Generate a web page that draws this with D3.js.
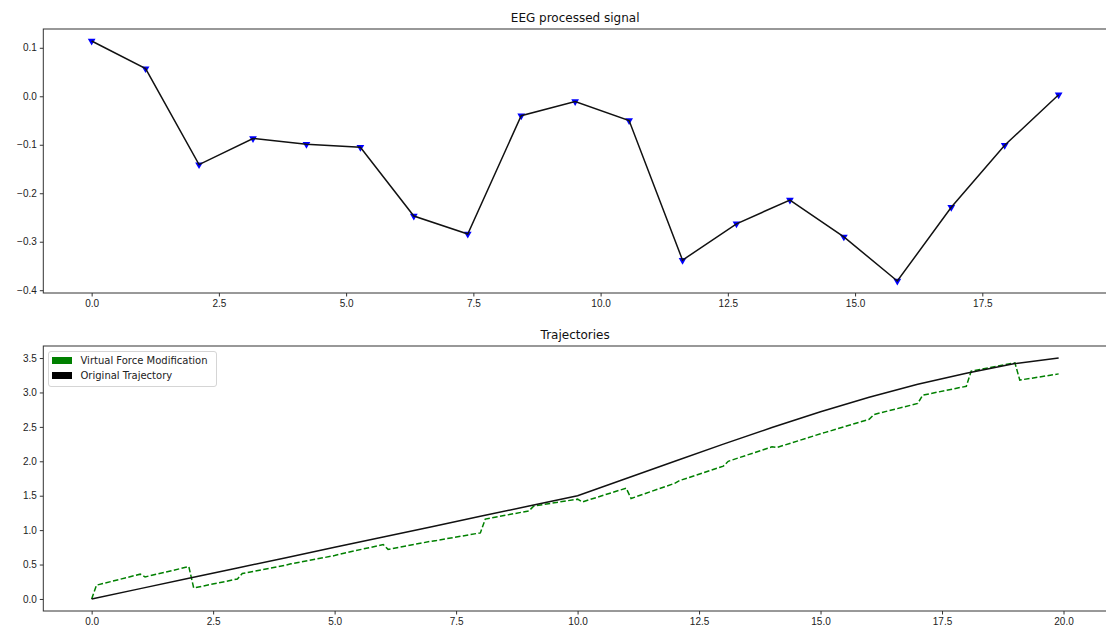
<!DOCTYPE html>
<html>
<head>
<meta charset="utf-8">
<script src="https://cdn.jsdelivr.net/npm/d3@7"></script>
<style>
  body { margin: 0; background: #fff; }
  svg { display: block; font-family: "DejaVu Sans", sans-serif; }
  .tick text { fill: #222; font-size: 10px; }
  .tick line { stroke: #333; }
</style>
</head>
<body>
<script>
const width = 1106
const height = 630

// EEG processed signal
const eegX = [0, 1.06, 2.11, 3.17, 4.22, 5.28, 6.33, 7.39, 8.44, 9.5, 10.56, 11.61, 12.67, 13.72, 14.78, 15.83, 16.89, 17.94, 19]
const eegY = [0.114, 0.057, -0.141, -0.087, -0.099, -0.105, -0.247, -0.284, -0.040, -0.011, -0.050, -0.338, -0.263, -0.214, -0.290, -0.381, -0.229, -0.101, 0.003]
const eegXTicks = [0, 2.5, 5, 7.5, 10, 12.5, 15, 17.5]
const eegYTicks = [-0.4, -0.3, -0.2, -0.1, 0, 0.1]

// Trajectories
const origX = [0, 1, 2, 3, 4, 5, 6, 7, 8, 9, 10, 11, 12, 13, 14, 15, 16, 17, 18, 19, 19.9]
const origY = [0, 0.15, 0.30, 0.45, 0.60, 0.75, 0.90, 1.05, 1.20, 1.35, 1.50, 1.75, 2.00, 2.25, 2.49, 2.72, 2.93, 3.12, 3.28, 3.42, 3.50]
const vfX = [0, 0.1, 1.0, 1.1, 2.0, 2.1, 3.0, 3.1, 4.0, 4.1, 5.0, 5.1, 6.0, 6.1, 7.0, 7.1, 8.0, 8.1, 9.0, 9.1,
             10.0, 10.1, 11.0, 11.1, 12.0, 12.1, 13.0, 13.1, 14.0, 14.1, 15.0, 15.1, 16.0, 16.1, 17.0, 17.1, 18.0, 18.1, 19.0, 19.1, 19.9]
const vfY = [0, 0.20, 0.36, 0.32, 0.47, 0.16, 0.29, 0.37, 0.49, 0.51, 0.63, 0.65, 0.79, 0.72, 0.84, 0.85, 0.96, 1.16, 1.28, 1.35,
             1.45, 1.41, 1.61, 1.46, 1.68, 1.72, 1.93, 2.00, 2.21, 2.20, 2.40, 2.42, 2.61, 2.68, 2.84, 2.96, 3.09, 3.31, 3.43, 3.18, 3.27]
const trajXTicks = [0, 2.5, 5, 7.5, 10, 12.5, 15, 17.5, 20]
const trajYTicks = [0, 0.5, 1, 1.5, 2, 2.5, 3, 3.5]
const legendLabels = ['Virtual Force Modification', 'Original Trajectory']
const legendColors = ['#008000', '#000000']

const svg = d3.select('body').append('svg')
        .attr('width', width)
        .attr('height', height)

svg.append('rect').attr('width', width).attr('height', height).attr('fill', '#fff')

// matplotlib style 5% margins
const pad = (ext) => {
    const m = (ext[1] - ext[0]) * 0.05
    return [ext[0] - m, ext[1] + m]
}

const drawAxes = (box, xDomain, yDomain, xTicks, yTicks, title) => {
    const x = d3.scaleLinear().domain(xDomain).range([box.left, box.right])
    const y = d3.scaleLinear().domain(yDomain).range([box.bottom, box.top])

    const xAxis = d3.axisBottom(x).tickValues(xTicks).tickFormat(d3.format('.1f'))
            .tickSizeOuter(0).tickSize(3.5).tickPadding(3)
    const yAxis = d3.axisLeft(y).tickValues(yTicks).tickFormat(d3.format('.1f'))
            .tickSizeOuter(0).tickSize(3.5).tickPadding(3)

    svg.append('g')
            .attr('transform', 'translate(0,' + box.bottom + ')')
            .call(xAxis)
            .call(g => g.select('.domain').remove())
    svg.append('g')
            .attr('transform', 'translate(' + box.left + ',0)')
            .call(yAxis)
            .call(g => g.select('.domain').remove())

    svg.append('text')
            .attr('x', (box.left + box.right) / 2)
            .attr('y', box.top - 7)
            .attr('text-anchor', 'middle')
            .attr('font-size', 12)
            .attr('fill', '#111')
            .text(title)

    return { x, y }
}

const frame = (box) => {
    svg.append('rect')
            .attr('x', box.left)
            .attr('y', box.top)
            .attr('width', box.right - box.left)
            .attr('height', box.bottom - box.top)
            .attr('fill', 'none')
            .attr('stroke', '#333')
            .attr('stroke-width', 1)
}

// top panel
const topBox = { left: 43.3, right: 1107, top: 29, bottom: 293 }
const eegPanel = drawAxes(topBox, pad(d3.extent(eegX)), pad(d3.extent(eegY)), eegXTicks, eegYTicks, 'EEG processed signal')

svg.selectAll('path.marker')
        .data(eegX)
        .join('path')
        .attr('class', 'marker')
        .attr('d', d3.symbol(d3.symbolTriangle, 26))
        .attr('transform', (d, i) => 'translate(' + eegPanel.x(d) + ',' + eegPanel.y(eegY[i]) + ') rotate(180)')
        .attr('fill', '#0000ff')

svg.append('path')
        .datum(eegX)
        .attr('d', d3.line().x(d => eegPanel.x(d)).y((d, i) => eegPanel.y(eegY[i])))
        .attr('fill', 'none')
        .attr('stroke', '#111')
        .attr('stroke-width', 1.5)

frame(topBox)

// bottom panel
const botBox = { left: 43.3, right: 1107, top: 346, bottom: 611 }
const trajPanel = drawAxes(botBox, pad(d3.extent(origX)), pad(d3.extent(origY)), trajXTicks, trajYTicks, 'Trajectories')

svg.append('path')
        .datum(vfX)
        .attr('d', d3.line().x(d => trajPanel.x(d)).y((d, i) => trajPanel.y(vfY[i])))
        .attr('fill', 'none')
        .attr('stroke', '#008000')
        .attr('stroke-width', 1.5)
        .attr('stroke-dasharray', '5.5,2.4')

svg.append('path')
        .datum(origX)
        .attr('d', d3.line().x(d => trajPanel.x(d)).y((d, i) => trajPanel.y(origY[i])))
        .attr('fill', 'none')
        .attr('stroke', '#111')
        .attr('stroke-width', 1.5)

frame(botBox)

// legend
const legend = svg.append('g').attr('transform', 'translate(48.5,351.5)')
legend.append('rect')
        .attr('width', 168)
        .attr('height', 35)
        .attr('rx', 2.5)
        .attr('fill', 'rgba(255,255,255,0.8)')
        .attr('stroke', '#d5d5d5')
        .attr('stroke-width', 1)

const items = legend.selectAll('g.item')
        .data(legendLabels)
        .join('g')
        .attr('class', 'item')
        .attr('transform', (d, i) => 'translate(0,' + (9 + i * 15) + ')')

items.append('rect')
        .attr('x', 3.5)
        .attr('y', -3.5)
        .attr('width', 20)
        .attr('height', 7)
        .attr('fill', (d, i) => legendColors[i])

items.append('text')
        .attr('x', 32)
        .attr('y', 3.6)
        .attr('font-size', 10)
        .attr('fill', '#222')
        .text(d => d)
</script>
</body>
</html>
